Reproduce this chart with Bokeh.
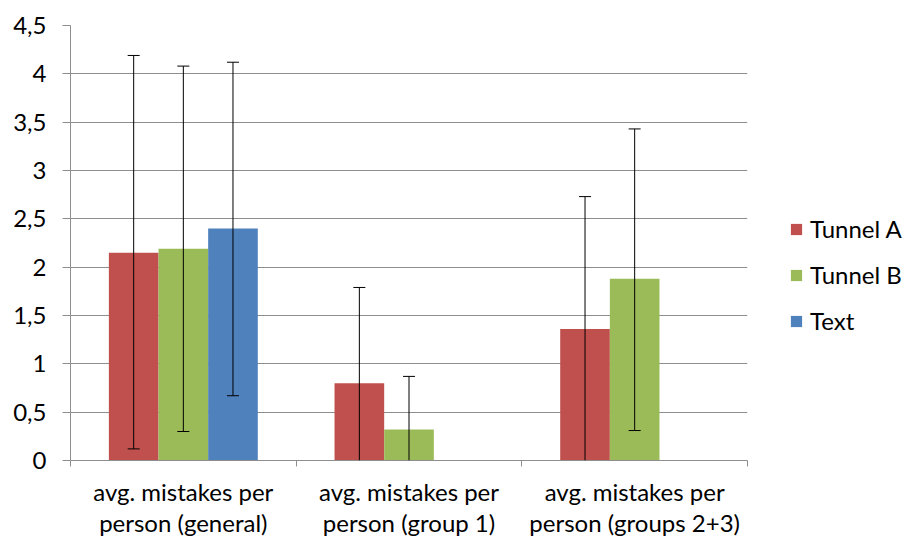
from bokeh.plotting import figure
from bokeh.layouts import row
from bokeh.models import (ColumnDataSource, FixedTicker, Range1d, Whisker, TeeHead,
                          Legend, LegendItem, LinearAxis)
from bokeh.transform import dodge
from bokeh.embed import file_html
from bokeh.resources import INLINE

categories = ["avg. mistakes per\nperson (general)",
              "avg. mistakes per\nperson (group 1)",
              "avg. mistakes per\nperson (groups 2+3)"]
series = ["Tunnel A", "Tunnel B", "Text"]
tunnel_a = [2.15, 0.80, 1.36]
tunnel_a_low = [0.12, 0.0, 0.0]
tunnel_a_high = [4.19, 1.79, 2.73]
tunnel_b = [2.19, 0.32, 1.88]
tunnel_b_low = [0.30, 0.0, 0.31]
tunnel_b_high = [4.08, 0.87, 3.43]
text_vals = [2.40]
text_low = [0.67]
text_high = [4.12]
y_ticks = [0, 0.5, 1, 1.5, 2, 2.5, 3, 3.5, 4, 4.5]

colors = ["#C0504D", "#9BBB59", "#4F81BD"]
FONT = "Lato"
FS = "24px"
GRID = "#8E8E8E"

centers = [i + 0.5 for i in range(len(categories))]

p = figure(width=757, height=540, output_backend="svg", toolbar_location=None,
           x_range=Range1d(0, 3), y_range=Range1d(0, 4.5),
           min_border_left=70, min_border_right=10, min_border_top=25,
           min_border_bottom=77, x_axis_type=None)
p.outline_line_color = None
p.background_fill_color = "white"
p.border_fill_color = "white"

# x axis
xax = LinearAxis(ticker=FixedTicker(ticks=centers, minor_ticks=[0, 1, 2, 3]))
xax.major_label_overrides = {c: lab for c, lab in zip(centers, categories)}
xax.major_tick_line_color = None
xax.minor_tick_in = 0
xax.minor_tick_out = 6
xax.minor_tick_line_color = GRID
xax.axis_line_color = GRID
xax.major_label_text_font = FONT
xax.major_label_text_font_size = FS
xax.major_label_text_color = "black"
xax.major_label_text_line_height = 1.1
xax.major_label_standoff = 10
p.add_layout(xax, "below")

# y axis
yax = p.yaxis[0]
yax.ticker = FixedTicker(ticks=y_ticks)
yax.major_label_overrides = {t: (f"{t:g}".replace(".", ",")) for t in y_ticks}
yax.minor_tick_line_color = None
yax.major_tick_in = 0
yax.major_tick_out = 8
yax.major_tick_line_color = GRID
yax.axis_line_color = GRID
yax.major_label_text_font = FONT
yax.major_label_text_font_size = FS
yax.major_label_text_color = "black"
yax.major_label_standoff = 16
p.ygrid.grid_line_color = GRID
p.ygrid.ticker = FixedTicker(ticks=y_ticks)
p.xgrid.grid_line_color = None

width = 0.22
offsets = [-width, 0.0, width]
data = [
    (tunnel_a, tunnel_a_low, tunnel_a_high),
    (tunnel_b, tunnel_b_low, tunnel_b_high),
    (text_vals, text_low, text_high),
]
for name, color, off, (vals, lo, hi) in zip(series, colors, offsets, data):
    n = len(vals)
    src = ColumnDataSource(dict(x=centers[:n], top=vals, lower=lo, upper=hi))
    p.vbar(x=dodge("x", off), top="top", width=width, source=src,
           fill_color=color, line_color=None)
    # error bar line with cap at the upper end
    p.add_layout(Whisker(source=src, base=dodge("x", off), upper="upper", lower="lower",
                         line_color="black", line_width=1, level="annotation",
                         upper_head=TeeHead(size=12, line_color="black", line_width=1),
                         lower_head=None))
    # caps at the lower end, only where the error bar does not reach the axis
    keep = [i for i in range(n) if lo[i] > 0]
    cap_src = ColumnDataSource(dict(x=[centers[i] for i in keep],
                                    lower=[lo[i] for i in keep]))
    p.add_layout(Whisker(source=cap_src, base=dodge("x", off), upper="lower", lower="lower",
                         line_color="black", line_width=1, level="annotation",
                         upper_head=TeeHead(size=12, line_color="black", line_width=1),
                         lower_head=None))

# legend panel
lg = figure(width=147, height=540, output_backend="svg", toolbar_location=None,
            x_range=Range1d(0, 1), y_range=Range1d(0, 1),
            min_border_left=0, min_border_right=0, min_border_top=0,
            min_border_bottom=0, x_axis_type=None, y_axis_type=None)
lg.outline_line_color = None
lg.xgrid.grid_line_color = None
lg.ygrid.grid_line_color = None
items = []
for name, color in zip(series, colors):
    r = lg.vbar(x=[0.5], top=[0], bottom=[0], width=0.1, fill_color=color, line_color=None)
    items.append(LegendItem(label=name, renderers=[r]))

legend = Legend(items=items, location=(32, 125), orientation="vertical",
                glyph_width=14, glyph_height=14, label_height=24,
                spacing=17, padding=0, margin=0, label_standoff=7,
                label_text_font=FONT, label_text_font_size=FS,
                label_text_color="black", border_line_color=None,
                background_fill_alpha=0)
lg.add_layout(legend)

layout = row(p, lg)
open("out.html", "w").write(file_html(layout, INLINE))
